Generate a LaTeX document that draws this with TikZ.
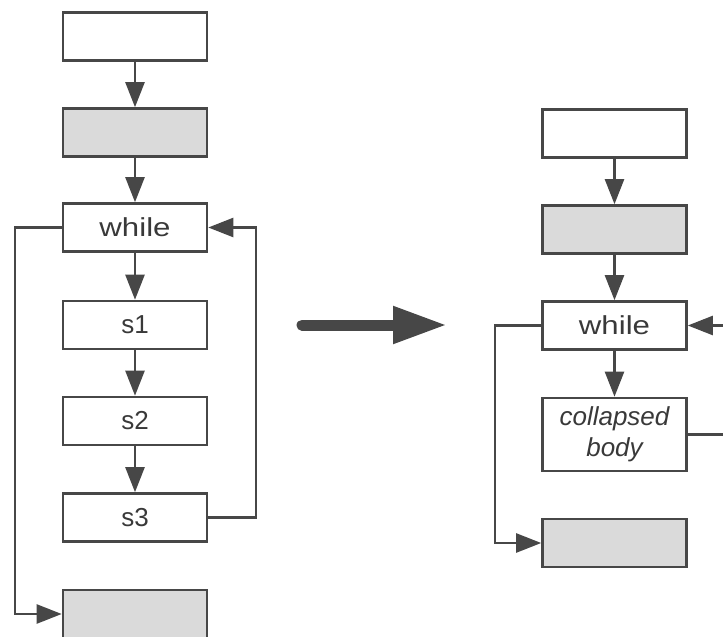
\documentclass[tikz,border=0pt]{standalone}
\usepackage{fontspec}
\setmainfont{Liberation Sans}
\usetikzlibrary{arrows.meta}
\definecolor{ink}{HTML}{474747}
\definecolor{shade}{HTML}{DADADA}
% wide upright label
\newcommand{\widelabel}[1]{\scalebox{1.2}[1]{#1}}
\begin{document}
\begin{tikzpicture}[x=1pt,y=-1pt,
  box/.style={draw=ink,line width=2.6pt,minimum width=144pt,minimum height=48pt,
    inner sep=0pt,font=\fontsize{26}{31}\selectfont,text=ink!80!black,align=center},
  greybox/.style={box,fill=shade},
  flow/.style={draw=ink,line width=2.4pt,-{Triangle[length=25pt,width=19pt]}},
  wire/.style={draw=ink,line width=2.4pt}]
\useasboundingbox (0,0) rectangle (723,637);
\clip (0,0) rectangle (723,637);

% original loop
\node[box]     (a0) at (135,36.5) {};
\node[greybox] (a1) at (135,132.5) {};
\node[box]     (aw) at (135,227.5) {\widelabel{while}};
\node[box]     (s1) at (135,325) {s1};
\node[box]     (s2) at (135,421) {s2};
\node[box]     (s3) at (135,517.5) {s3};
\node[greybox] (ae) at (135,614) {};

\draw[flow] (a0) -- (a1);
\draw[flow] (a1) -- (aw);
\draw[flow] (aw) -- (s1);
\draw[flow] (s1) -- (s2);
\draw[flow] (s2) -- (s3);
\draw[flow] (s3.east) -- (256,517.5) |- (aw.east);
\draw[flow] (aw.west) -- (15,227.5) |- (ae.west);

% transformation arrow
\coordinate (t0) at (302,325);
\coordinate (t1) at (447,325);
\draw[ink,line width=11pt,line cap=round,-{Triangle[length=54pt,width=35pt]}] (t0) -- (t1);

% collapsed loop
\node[box]     (b0) at (614.5,133.5) {};
\node[greybox] (b1) at (614.5,229.5) {};
\node[box]     (bw) at (614.5,325.5) {\widelabel{while}};
\node[box,minimum height=73pt,font=\fontsize{26}{31}\selectfont\itshape] (bb) at (614.5,434.5) {collapsed\\body};
\node[greybox] (be) at (614.5,543) {};
\coordinate (br) at (745,434.5);

\draw[flow] (b0) -- (b1);
\draw[flow] (b1) -- (bw);
\draw[flow] (bw) -- (bb);
\draw[flow] (bb.east) -- (br) |- (bw.east);
\draw[flow] (bw.west) -- (495,325.5) |- (be.west);
\end{tikzpicture}
\end{document}
